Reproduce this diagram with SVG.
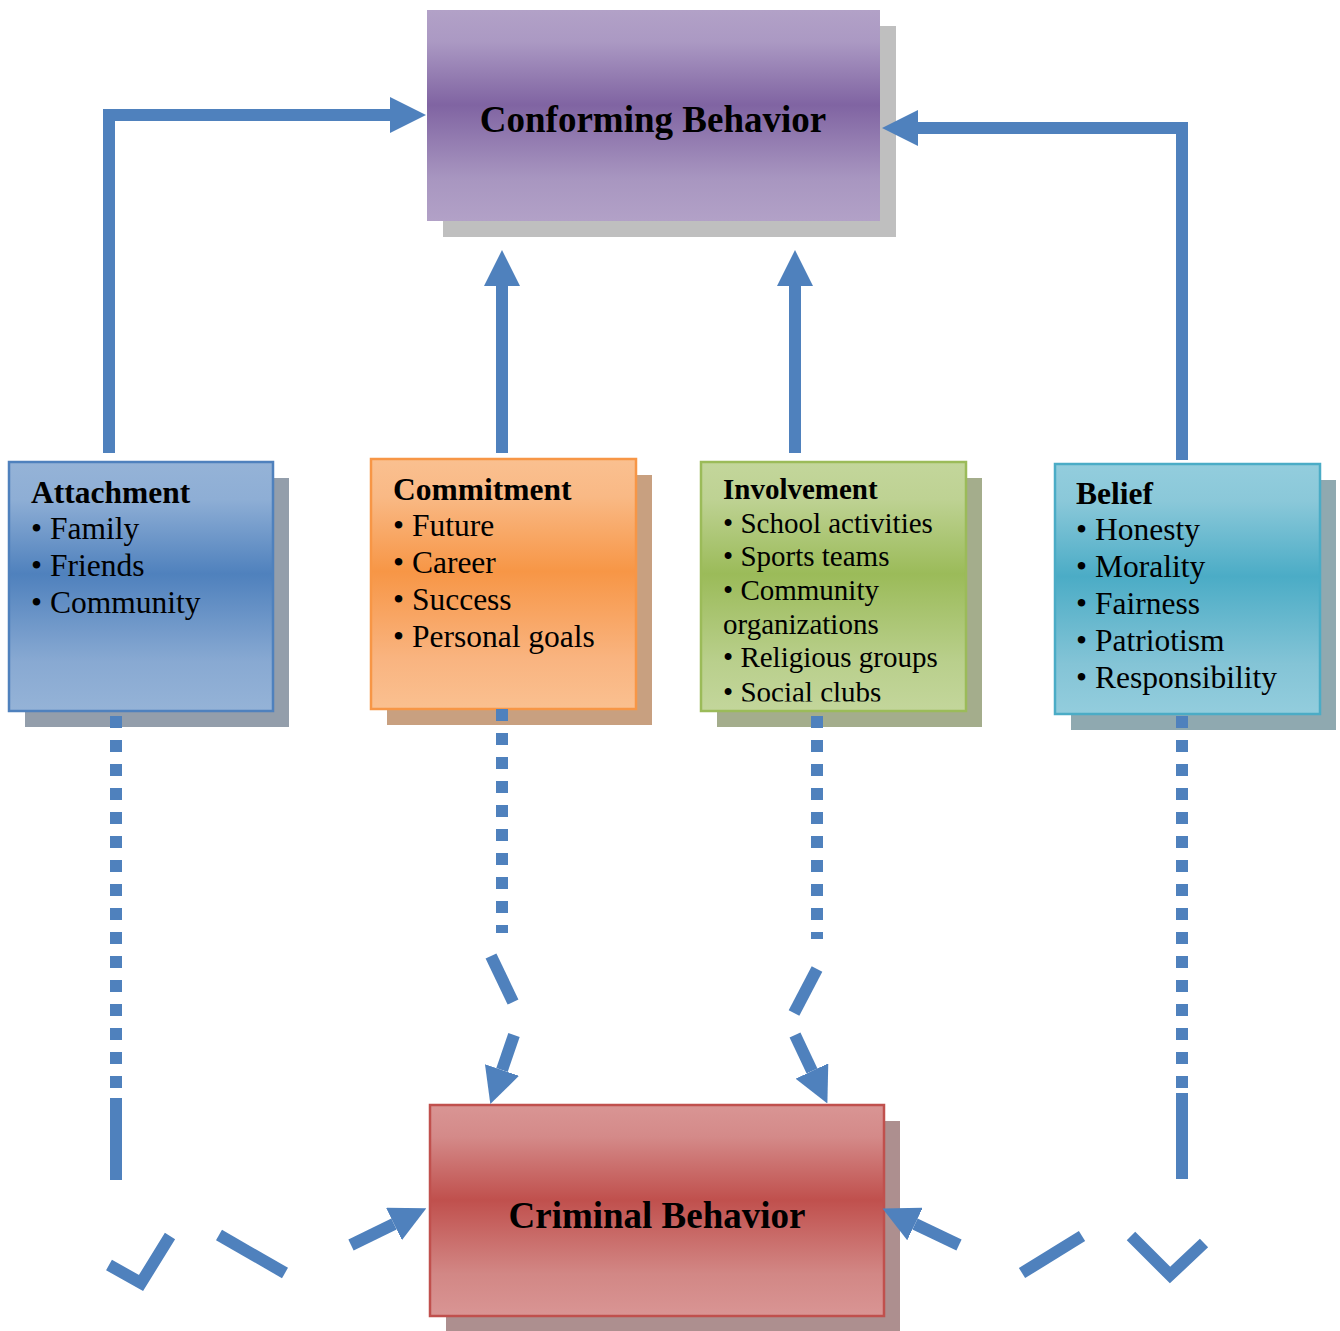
<svg xmlns="http://www.w3.org/2000/svg" width="1340" height="1331" viewBox="0 0 1340 1331">
<style>
.t{font-family:"Liberation Serif","Times New Roman",serif;fill:#000}
.h{font-weight:bold}
.big{font-size:37px;font-weight:bold}
.m{font-size:31.5px}
.s{font-size:29px}
.ln{fill:none;stroke:#4f81bd;stroke-width:12;stroke-linecap:butt;stroke-linejoin:miter}
.dot{fill:none;stroke:#4f81bd;stroke-width:12;stroke-dasharray:12 12}
</style>
<defs>
<linearGradient id="gP" x1="0" y1="0" x2="0" y2="1"><stop offset="0" stop-color="#b2a1c7"/><stop offset="0.15" stop-color="#ab99c3"/><stop offset="0.45" stop-color="#8064a2"/><stop offset="0.8" stop-color="#a896c0"/><stop offset="1" stop-color="#b2a1c7"/></linearGradient>
<linearGradient id="gB" x1="0" y1="0" x2="0" y2="1"><stop offset="0" stop-color="#95b3d7"/><stop offset="0.15" stop-color="#8eaed5"/><stop offset="0.45" stop-color="#4f81bd"/><stop offset="0.8" stop-color="#88a9d2"/><stop offset="1" stop-color="#95b3d7"/></linearGradient>
<linearGradient id="gO" x1="0" y1="0" x2="0" y2="1"><stop offset="0" stop-color="#fac090"/><stop offset="0.15" stop-color="#f9b985"/><stop offset="0.45" stop-color="#f79646"/><stop offset="0.8" stop-color="#f9b480"/><stop offset="1" stop-color="#fac090"/></linearGradient>
<linearGradient id="gG" x1="0" y1="0" x2="0" y2="1"><stop offset="0" stop-color="#c3d69b"/><stop offset="0.15" stop-color="#bed293"/><stop offset="0.45" stop-color="#9bbb59"/><stop offset="0.8" stop-color="#b9cf8c"/><stop offset="1" stop-color="#c3d69b"/></linearGradient>
<linearGradient id="gA" x1="0" y1="0" x2="0" y2="1"><stop offset="0" stop-color="#93cddd"/><stop offset="0.15" stop-color="#8ac8d9"/><stop offset="0.45" stop-color="#4bacc6"/><stop offset="0.8" stop-color="#84c4d6"/><stop offset="1" stop-color="#93cddd"/></linearGradient>
<linearGradient id="gR" x1="0" y1="0" x2="0" y2="1"><stop offset="0" stop-color="#d99594"/><stop offset="0.15" stop-color="#d48a89"/><stop offset="0.45" stop-color="#c0504d"/><stop offset="0.8" stop-color="#d28785"/><stop offset="1" stop-color="#d99594"/></linearGradient>
<marker id="ah" markerUnits="userSpaceOnUse" viewBox="0 0 36 36" refX="0" refY="18" markerWidth="36" markerHeight="36" orient="auto"><path d="M0,0 L36,18 L0,36 z" fill="#4f81bd"/></marker>
<clipPath id="clipInv"><rect x="701" y="462" width="265" height="239.5"/></clipPath>
</defs>

<g id="conforming">
<rect x="443" y="26" width="453" height="211" fill="#bfbfbf"/>
<rect x="427" y="10" width="453" height="211" fill="url(#gP)"/>
<text class="t big" x="653" y="132" text-anchor="middle">Conforming Behavior</text>
</g>

<g id="attachment">
<rect x="25" y="478" width="264" height="249" fill="#939eab"/>
<rect x="9" y="462" width="264" height="249" fill="url(#gB)" stroke="#4f81bd" stroke-width="2.5"/>
<text class="t m h" x="31" y="503">Attachment</text>
<text class="t m" x="31" y="539">• Family</text>
<text class="t m" x="31" y="576">• Friends</text>
<text class="t m" x="31" y="613">• Community</text>
</g>

<g id="commitment">
<rect x="387" y="475" width="265" height="250" fill="#c8a080"/>
<rect x="371" y="459" width="265" height="250" fill="url(#gO)" stroke="#f79646" stroke-width="2.5"/>
<text class="t m h" x="393" y="500">Commitment</text>
<text class="t m" x="393" y="536">• Future</text>
<text class="t m" x="393" y="573">• Career</text>
<text class="t m" x="393" y="610">• Success</text>
<text class="t m" x="393" y="647">• Personal goals</text>
</g>

<g id="involvement">
<rect x="717" y="478" width="265" height="249" fill="#a4ad8c"/>
<rect x="701" y="462" width="265" height="249" fill="url(#gG)" stroke="#9bbb59" stroke-width="2.5"/>
<g clip-path="url(#clipInv)">
<text class="t s h" x="723" y="499">Involvement</text>
<text class="t s" x="723" y="533">• School activities</text>
<text class="t s" x="723" y="566">• Sports teams</text>
<text class="t s" x="723" y="600">• Community</text>
<text class="t s" x="723" y="634">organizations</text>
<text class="t s" x="723" y="667">• Religious groups</text>
<text class="t s" x="723" y="702">• Social clubs</text>
</g>
</g>

<g id="belief">
<rect x="1071" y="480" width="265" height="250" fill="#8fa9b0"/>
<rect x="1055" y="464" width="265" height="250" fill="url(#gA)" stroke="#4bacc6" stroke-width="2.5"/>
<text class="t m h" x="1076" y="504">Belief</text>
<text class="t m" x="1076" y="540">• Honesty</text>
<text class="t m" x="1076" y="577">• Morality</text>
<text class="t m" x="1076" y="614">• Fairness</text>
<text class="t m" x="1076" y="651">• Patriotism</text>
<text class="t m" x="1076" y="688">• Responsibility</text>
</g>

<g id="criminal">
<rect x="446" y="1121" width="454" height="211" fill="#ad8f8f"/>
<rect x="430" y="1105" width="454" height="211" fill="url(#gR)" stroke="#c0504d" stroke-width="2.5"/>
<text class="t big" x="657" y="1228" text-anchor="middle">Criminal Behavior</text>
</g>

<g id="connectors">
<path class="ln" d="M109,453 V115 H390" stroke-width="11" marker-end="url(#ah)"/>
<path class="ln" d="M1182,460 V128 H918" marker-end="url(#ah)"/>
<path class="ln" d="M502,453 V286" marker-end="url(#ah)"/>
<path class="ln" d="M795,453 V286" marker-end="url(#ah)"/>

<path class="dot" d="M116,716 V1088"/>
<path class="ln" d="M116,1098 V1180"/>
<path class="ln" d="M109,1265 L141,1283 L170,1236"/>
<path class="ln" d="M219,1235 L285,1273"/>
<path class="ln" d="M351,1245 L394,1224" marker-end="url(#ah)"/>

<path class="dot" d="M502,709 V933"/>
<path class="ln" d="M491,956 L513,1002"/>
<path class="ln" d="M514,1035 L502,1070" marker-end="url(#ah)"/>

<path class="dot" d="M817,716 V939"/>
<path class="ln" d="M817,969 L794,1013"/>
<path class="ln" d="M795,1035 L812,1071" marker-end="url(#ah)"/>

<path class="dot" d="M1182,716 V1088"/>
<path class="ln" d="M1182,1093 V1179"/>
<path class="ln" d="M1131,1236 L1170,1275 L1204,1243"/>
<path class="ln" d="M1022,1273 L1082,1236"/>
<path class="ln" d="M959,1245 L915,1224" marker-end="url(#ah)"/>
</g>
</svg>
